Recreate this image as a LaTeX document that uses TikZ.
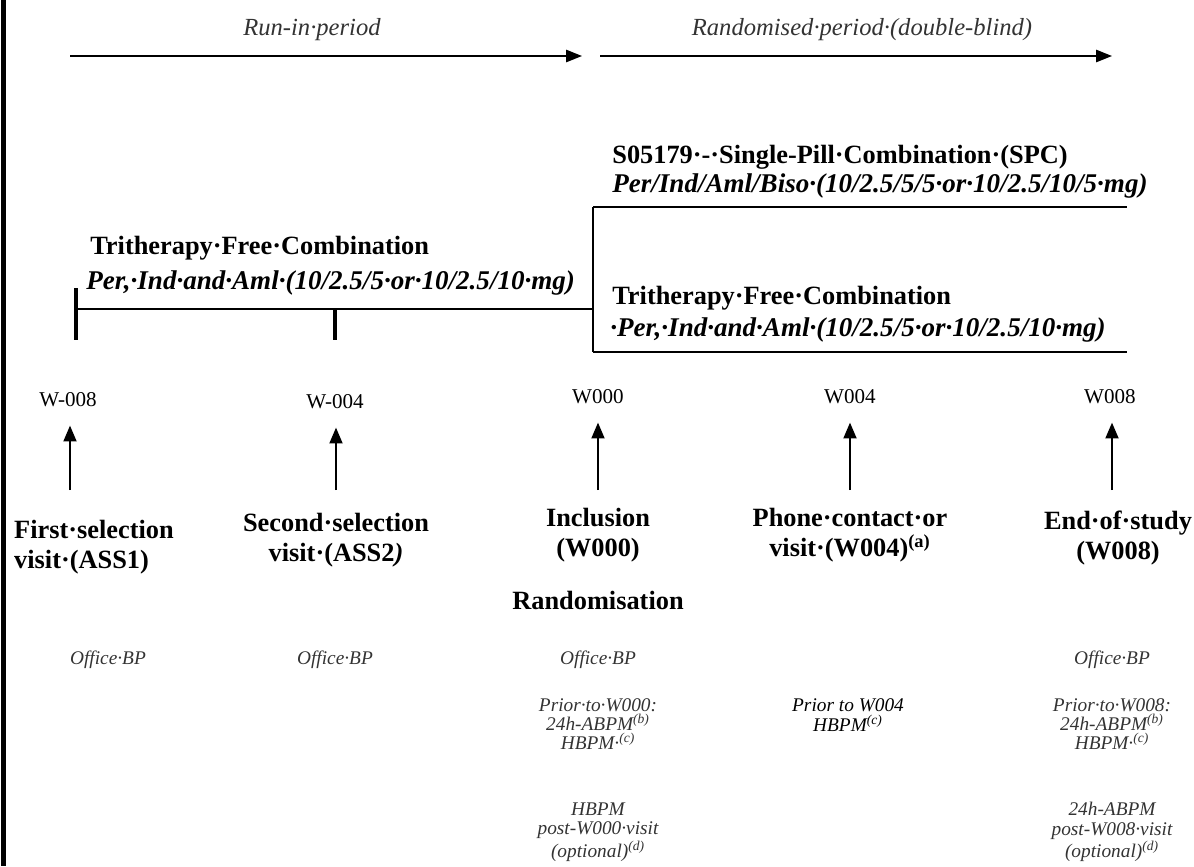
\documentclass[tikz,border=0pt]{standalone}
\usepackage{fontspec}
\setmainfont{Liberation Serif}
\usetikzlibrary{arrows.meta}

\begin{document}
\begin{tikzpicture}[x=0.02cm,y=-0.02cm,
    period/.style={font=\fontsize{14}{16}\selectfont\itshape, text=black!80},
    timearrow/.style={line width=0.8pt, -{Triangle[length=9pt,width=7pt]}},
    armtitle/.style={anchor=west, inner sep=0pt, font=\fontsize{15}{18}\selectfont\bfseries},
    armdose/.style={anchor=west, inner sep=0pt, font=\fontsize{15.4}{18}\selectfont\bfseries\itshape},
    armline/.style={line width=0.9pt},
    tickline/.style={line width=1.8pt},
    week/.style={font=\fontsize{12}{14}\selectfont},
    visitarrow/.style={line width=0.8pt, shorten >=7pt, -{Triangle[length=9pt,width=7.5pt]}},
    visit/.style={align=center, font=\fontsize{15}{17}\selectfont\bfseries},
    bpnote/.style={align=center, font=\fontsize{11}{11}\selectfont\itshape, text=black!80}]
          \useasboundingbox (0,0) rectangle (1194,866);
          \coordinate (frameTop) at (3.5,0);
          \coordinate (frameBot) at (3.5,866);
          \draw [line width=2.3pt] (frameTop) -- (frameBot); % left frame

          % periods
          \node [period] (runin) at (312,30) {Run-in·period};
          \node [period] (rand) at (862,30) {Randomised·period·(double-blind)};
          \coordinate (runS) at (70,56);
          \coordinate (runE) at (582,56);
          \coordinate (randS) at (600,56);
          \coordinate (randE) at (1112,56);
          \draw [timearrow] (runS) -- (runE);
          \draw [timearrow] (randS) -- (randE);

          % treatment arms
          \node [armtitle] (spcT) at (612,157) {S05179·-·Single-Pill·Combination·(SPC)};
          \node [armdose] (spcD) at (612,186) {Per/Ind/Aml/Biso·(10/2.5/5/5·or·10/2.5/10/5·mg)};
          \node [armtitle] (tfcT) at (90,248) {Tritherapy·Free·Combination};
          \node [armdose] (tfcD) at (86,283) {Per,·Ind·and·Aml·(10/2.5/5·or·10/2.5/10·mg)};
          \node [armtitle] (tfc2T) at (612,298) {Tritherapy·Free·Combination};
          \node [armdose] (tfc2D) at (610,330) {·Per,·Ind·and·Aml·(10/2.5/5·or·10/2.5/10·mg)};

          \coordinate (t1) at (76,309);
          \coordinate (t1top) at (76,288);
          \coordinate (t1bot) at (76,340);
          \coordinate (t2) at (335,309);
          \coordinate (t2bot) at (335,340);
          \coordinate (split) at (593,309);
          \coordinate (splitTop) at (593,207);
          \coordinate (splitBot) at (593,352);
          \coordinate (spcEnd) at (1127,207);
          \coordinate (tfcEnd) at (1127,352);
          \draw [armline] (t1) -- (split);
          \draw [armline] (splitTop) -- (splitBot);
          \draw [armline] (splitTop) -- (spcEnd);
          \draw [armline] (splitBot) -- (tfcEnd);
          \draw [tickline] (t1top) -- (t1bot);
          \draw [tickline] (t2) -- (t2bot);

          % weeks
          \node [week] (wk1) at (68,400) {W-008};
          \node [week] (wk2) at (335,402) {W-004};
          \node [week] (wk3) at (598,397) {W000};
          \node [week] (wk4) at (850,397) {W004};
          \node [week] (wk5) at (1110,397) {W008};

          \coordinate (a1) at (70,490);
          \coordinate (a2) at (336,490);
          \coordinate (a3) at (598,490);
          \coordinate (a4) at (850,490);
          \coordinate (a5) at (1112,490);
          \draw [visitarrow] (a1) -- (a1 |- wk1.south);
          \draw [visitarrow] (a2) -- (a2 |- wk2.south);
          \draw [visitarrow] (a3) -- (a3 |- wk3.south);
          \draw [visitarrow] (a4) -- (a4 |- wk4.south);
          \draw [visitarrow] (a5) -- (a5 |- wk5.south);

          % visits
          \node [visit, align=left, anchor=west] (v1) at (8,547) {First·selection\\visit·(ASS1)};
          \node [visit] (v2) at (336,540) {Second·selection\\visit·(ASS2\textit{)}};
          \node [visit] (v3) at (598,535) {Inclusion\\(W000)};
          \node [visit] (v3r) at (598,600) {Randomisation};
          \node [visit] (v4) at (850,535) {Phone·contact·or\\visit·(W004)\textsuperscript{(a)}};
          \node [visit] (v5) at (1118,538) {End·of·study\\(W008)};

          % blood pressure measures
          \node [bpnote] (bp1) at (108,660) {Office·BP};
          \node [bpnote] (bp2) at (335,660) {Office·BP};
          \node [bpnote] (bp3) at (598,660) {Office·BP};
          \node [bpnote] (bp5) at (1112,660) {Office·BP};
          \node [bpnote] (pre3) at (598,724) {Prior·to·W000:\\24h-ABPM\textsuperscript{(b)}\\HBPM·\textsuperscript{(c)}};
          \node [bpnote, text=black] (pre4) at (848,715) {Prior to W004\\HBPM\textsuperscript{(c)}};
          \node [bpnote] (pre5) at (1112,724) {Prior·to·W008:\\24h-ABPM\textsuperscript{(b)}\\HBPM·\textsuperscript{(c)}};
          \node [bpnote] (post3) at (598,832) {HBPM\\post-W000·visit\\(optional)\textsuperscript{(d)}};
          \node [bpnote] (post5) at (1112,832) {24h-ABPM\\post-W008·visit\\(optional)\textsuperscript{(d)}};
        \end{tikzpicture}
\end{document}
